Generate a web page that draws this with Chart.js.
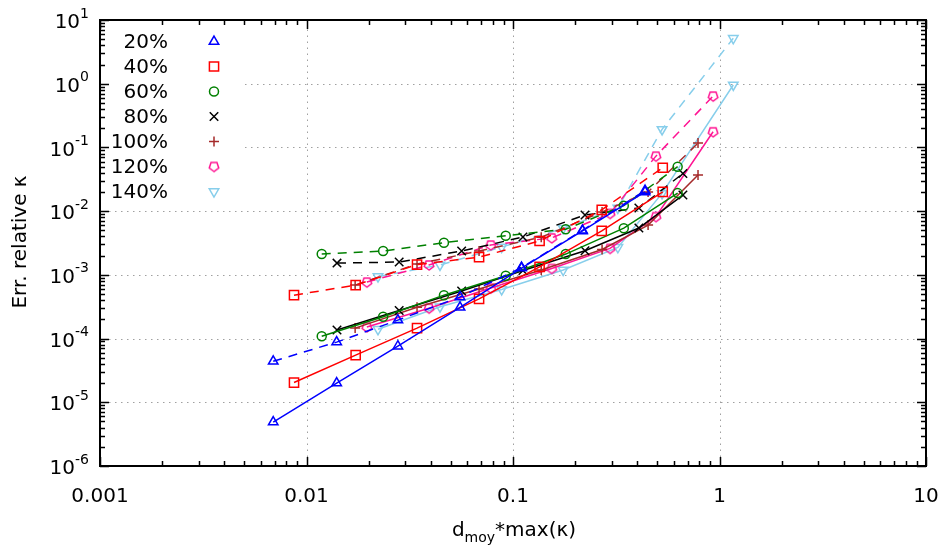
<!DOCTYPE html>
<html>
<head>
<meta charset="utf-8">
<title>Err. relative kappa</title>
<script src="https://cdn.jsdelivr.net/npm/chart.js@4.4.0/dist/chart.umd.min.js"></script>
<style>
  html, body { margin: 0; padding: 0; background: #fff; }
  #wrap { width: 946px; height: 548px; }
</style>
</head>
<body>
<div id="wrap"><canvas id="chart" width="946" height="548"></canvas></div>
<script>
// séries : x = d_moy*max(k), "max" = courbe pointillée, "mean" = courbe pleine
const seriesLabels = ['20%', '40%', '60%', '80%', '100%', '120%', '140%'];
const seriesColors = ['#0000ff', '#ff0000', '#008000', '#000000', '#a52a2a', '#ff1493', '#87ceeb'];

const x20 = [0.0069, 0.014, 0.0277, 0.0554, 0.11, 0.217, 0.436];
const mean20 = [4.9e-6, 2.0e-5, 7.6e-5, 3.1e-4, 1.28e-3, 4.9e-3, 0.020];
const max20 = [4.4e-5, 8.8e-5, 1.95e-4, 4.5e-4, 1.3e-3, 5.0e-3, 0.021];

const x40 = [0.0087, 0.0173, 0.0343, 0.0685, 0.1345, 0.269, 0.531];
const mean40 = [2.04e-5, 5.5e-5, 1.46e-4, 4.2e-4, 1.33e-3, 4.9e-3, 0.020];
const max40 = [4.8e-4, 6.9e-4, 1.45e-3, 1.9e-3, 3.4e-3, 0.0105, 0.048];

const x60 = [0.01185, 0.0235, 0.0463, 0.0922, 0.18, 0.344, 0.627];
const mean60 = [1.09e-4, 2.2e-4, 4.8e-4, 9.7e-4, 2.12e-3, 5.4e-3, 0.0192];
const max60 = [2.12e-3, 2.37e-3, 3.2e-3, 4.1e-3, 5.2e-3, 0.0122, 0.0498];

const x80 = [0.01405, 0.0281, 0.0564, 0.1117, 0.2232, 0.407, 0.665];
const mean80 = [1.36e-4, 2.75e-4, 5.57e-4, 1.17e-3, 2.39e-3, 5.43e-3, 0.0179];
const max80 = [1.53e-3, 1.59e-3, 2.37e-3, 3.92e-3, 8.7e-3, 0.0112, 0.039];

const x100 = [0.0172, 0.0343, 0.0685, 0.137, 0.27, 0.451, 0.787];
const mean100 = [1.46e-4, 3.1e-4, 6.0e-4, 1.19e-3, 2.5e-3, 6.05e-3, 0.037];
const max100 = [6.9e-4, 1.48e-3, 2.37e-3, 3.9e-3, 9.7e-3, 0.020, 0.117];

const x120 = [0.0196, 0.0392, 0.078, 0.154, 0.295, 0.492, 0.931];
const mean120 = [1.52e-4, 3.0e-4, 6.2e-4, 1.26e-3, 2.6e-3, 8.2e-3, 0.176];
const max120 = [7.7e-4, 1.43e-3, 2.94e-3, 3.8e-3, 9.2e-3, 0.073, 0.64];

const x140 = [0.0222, 0.0443, 0.0881, 0.175, 0.322, 0.527, 1.166];
const mean140 = [1.4e-4, 3.16e-4, 5.9e-4, 1.19e-3, 2.7e-3, 0.019, 0.955];
const max140 = [9.4e-4, 1.43e-3, 2.73e-3, 5.37e-3, 0.0112, 0.192, 5.16];

const xTickValues = [0.001, 0.01, 0.1, 1, 10];
const xTickLabels = ['0.001', '0.01', '0.1', '1', '10'];
const yTickExponents = [1, 0, -1, -2, -3, -4, -5, -6];

const allX = [x20, x40, x60, x80, x100, x120, x140];
const allMean = [mean20, mean40, mean60, mean80, mean100, mean120, mean140];
const allMax = [max20, max40, max60, max80, max100, max120, max140];

// pentagone ouvert (pas dispo dans Chart.js)
function makePentagon(color) {
    const c = document.createElement('canvas');
    c.width = 14; c.height = 14;
    const g = c.getContext('2d');
    g.strokeStyle = color;
    g.lineWidth = 1.5;
    g.beginPath();
    for (let i = 0; i < 5; i++) {
        const a = Math.PI / 2 + i * 2 * Math.PI / 5;
        const px = 7 + 5 * Math.cos(a);
        const py = 7 - 5 * Math.sin(a);
        if (i === 0) g.moveTo(px, 14 - py); else g.lineTo(px, 14 - py);
    }
    g.closePath();
    g.stroke();
    return c;
}

const pointStyles = ['triangle', 'rect', 'circle', 'crossRot', 'cross', makePentagon(seriesColors[5]), 'triangle'];
const pointRotations = [0, 0, 0, 0, 0, 0, 180];
const pointRadii = [5.5, 6.5, 4.5, 6, 5, 6, 5.5];

const FONT = '"DejaVu Sans", sans-serif';

const datasets = [];
seriesLabels.forEach(function(label, i) {
    const common = {
        borderColor: seriesColors[i],
        backgroundColor: 'rgba(0,0,0,0)',
        pointBorderColor: seriesColors[i],
        pointBackgroundColor: 'rgba(0,0,0,0)',
        pointStyle: pointStyles[i],
        rotation: pointRotations[i],
        pointRadius: pointRadii[i],
        pointBorderWidth: 1.5,
        borderWidth: 1.5,
        tension: 0,
        fill: false
    };
    datasets.push(Object.assign({}, common, {
        label: label + ' max',
        data: allX[i].map((x, k) => ({ x: x, y: allMax[i][k] })),
        borderDash: [9, 7]
    }));
    datasets.push(Object.assign({}, common, {
        label: label,
        data: allX[i].map((x, k) => ({ x: x, y: allMean[i][k] }))
    }));
});

// Grille pointillée (derrière les courbes)
const gridPlugin = {
    id: 'gridPlugin',
    beforeDatasetsDraw(chart) {
        const ctx = chart.ctx;
        const a = chart.chartArea;
        const xs = chart.scales.x, ys = chart.scales.y;
        ctx.save();
        ctx.strokeStyle = '#a0a0a0';
        ctx.lineWidth = 1;
        ctx.setLineDash([1.5, 4.5]);
        [0.01, 0.1, 1].forEach(v => {
            const px = Math.round(xs.getPixelForValue(v)) + 0.5;
            ctx.beginPath();
            ctx.moveTo(px, a.bottom - 9);
            ctx.lineTo(px, a.top + 9);
            ctx.stroke();
        });
        for (let e = -5; e <= 0; e++) {
            const py = Math.round(ys.getPixelForValue(Math.pow(10, e))) + 0.5;
            const startX = py < 210 ? 245 : a.left + 9;
            ctx.beginPath();
            ctx.moveTo(startX, py);
            ctx.lineTo(a.right - 9, py);
            ctx.stroke();
        }
        ctx.restore();
    }
};

// Cadre, graduations, textes, légende
const framePlugin = {
    id: 'framePlugin',
    afterDatasetsDraw(chart) {
        const ctx = chart.ctx;
        const a = chart.chartArea;
        const xs = chart.scales.x, ys = chart.scales.y;
        ctx.save();
        ctx.setLineDash([]);
        ctx.strokeStyle = '#000';
        ctx.lineWidth = 1.5;

        // graduations
        ctx.beginPath();
        for (let d = -3; d <= 1; d++) {
            for (let k = 1; k <= 9; k++) {
                const v = k * Math.pow(10, d);
                if (v > 10.0001) break;
                const len = k === 1 ? 9 : 5;
                const px = Math.round(xs.getPixelForValue(v)) + 0.5;
                ctx.moveTo(px, a.bottom); ctx.lineTo(px, a.bottom - len);
                ctx.moveTo(px, a.top); ctx.lineTo(px, a.top + len);
            }
        }
        for (let d = -6; d <= 1; d++) {
            for (let k = 1; k <= 9; k++) {
                const v = k * Math.pow(10, d);
                if (v > 10.0001) break;
                const len = k === 1 ? 9 : 5;
                const py = Math.round(ys.getPixelForValue(v)) + 0.5;
                ctx.moveTo(a.left, py); ctx.lineTo(a.left + len, py);
                ctx.moveTo(a.right, py); ctx.lineTo(a.right - len, py);
            }
        }
        ctx.stroke();

        // cadre
        ctx.lineWidth = 2;
        ctx.strokeRect(a.left, a.top, a.right - a.left, a.bottom - a.top);

        // étiquettes axe x
        ctx.fillStyle = '#000';
        ctx.font = '20px ' + FONT;
        ctx.textAlign = 'center';
        ctx.textBaseline = 'middle';
        xTickValues.forEach((v, i) => {
            ctx.fillText(xTickLabels[i], xs.getPixelForValue(v), a.bottom + 31);
        });

        // étiquettes axe y : 10^n
        yTickExponents.forEach(e => {
            const py = ys.getPixelForValue(Math.pow(10, e));
            const expText = String(e);
            ctx.font = '14px ' + FONT;
            const ew = ctx.measureText(expText).width;
            ctx.textAlign = 'left';
            ctx.fillText(expText, 89 - ew, py - 6);
            ctx.font = '20px ' + FONT;
            ctx.textAlign = 'right';
            ctx.fillText('10', 89 - ew, py + 3);
        });

        // titre axe y
        ctx.save();
        ctx.translate(21, 242);
        ctx.rotate(-Math.PI / 2);
        ctx.font = '20px ' + FONT;
        ctx.textAlign = 'center';
        ctx.textBaseline = 'middle';
        ctx.fillText('Err. relative \u03BA', 0, 0);
        ctx.restore();

        // titre axe x : d_moy*max(κ)
        ctx.textBaseline = 'alphabetic';
        ctx.textAlign = 'left';
        ctx.font = '20px ' + FONT;
        const wD = ctx.measureText('d').width;
        const wRest = ctx.measureText('*max(\u03BA)').width;
        ctx.font = '14px ' + FONT;
        const wSub = ctx.measureText('moy').width;
        let tx = 514 - (wD + wSub + wRest) / 2;
        const ty = 536;
        ctx.font = '20px ' + FONT;
        ctx.fillText('d', tx, ty); tx += wD;
        ctx.font = '14px ' + FONT;
        ctx.fillText('moy', tx, ty + 6); tx += wSub;
        ctx.font = '20px ' + FONT;
        ctx.fillText('*max(\u03BA)', tx, ty);

        // légende
        seriesLabels.forEach((label, i) => {
            const ly = 41.5 + i * 25;
            ctx.font = '20px ' + FONT;
            ctx.textAlign = 'right';
            ctx.textBaseline = 'middle';
            ctx.fillStyle = '#000';
            ctx.fillText(label, 168, ly + 1);
            ctx.strokeStyle = seriesColors[i];
            ctx.fillStyle = 'rgba(0,0,0,0)';
            ctx.lineWidth = 1.5;
            Chart.helpers.drawPoint(ctx, {
                pointStyle: pointStyles[i],
                rotation: pointRotations[i],
                radius: pointRadii[i],
                borderWidth: 1.5
            }, 214, ly);
        });
        ctx.restore();
    }
};

new Chart(document.getElementById('chart'), {
    type: 'line',
    data: { datasets: datasets },
    options: {
        responsive: false,
        animation: false,
        devicePixelRatio: 1,
        layout: { padding: { left: 100, right: 20, top: 20, bottom: 82 } },
        scales: {
            x: { type: 'logarithmic', min: 0.001, max: 10, display: false },
            y: { type: 'logarithmic', min: 1e-6, max: 10, display: false }
        },
        plugins: {
            legend: { display: false },
            tooltip: { enabled: false }
        }
    },
    plugins: [gridPlugin, framePlugin]
});
</script>
</body>
</html>
